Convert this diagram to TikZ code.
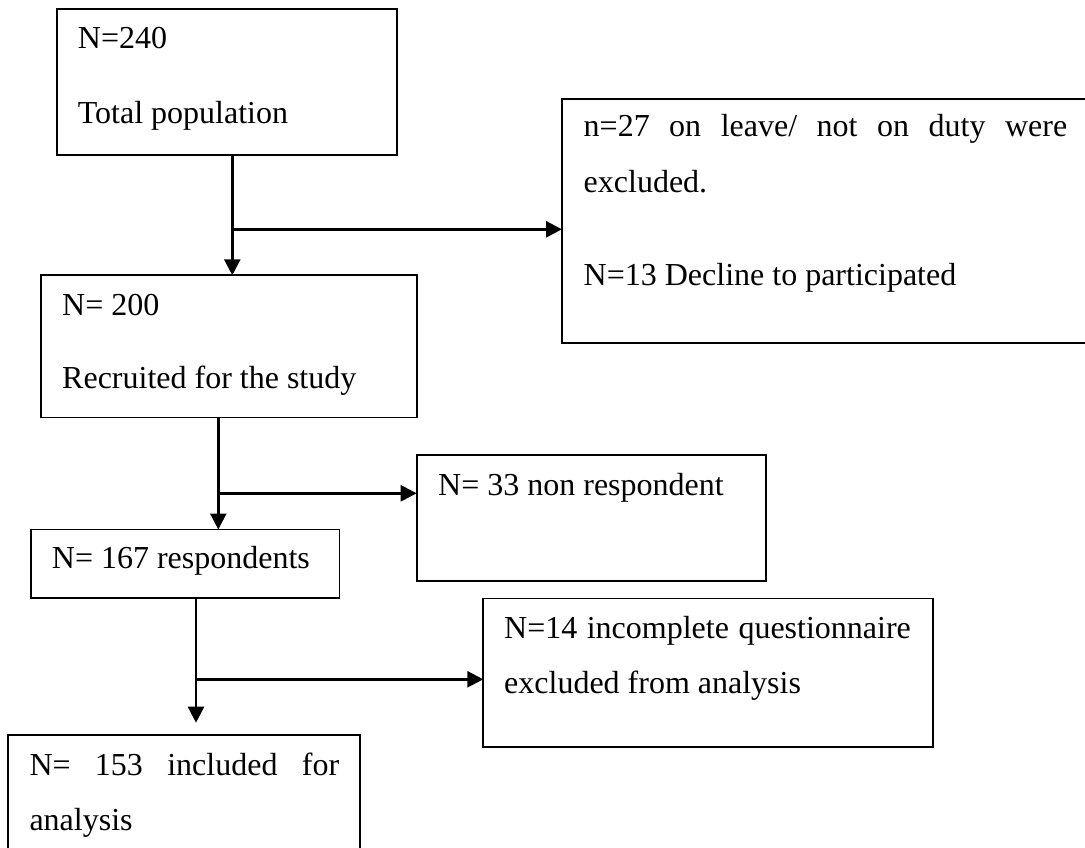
\documentclass[tikz,border=0pt]{standalone}
\usepackage{fontspec}
\setmainfont{Liberation Serif}
\usetikzlibrary{arrows.meta}

\begin{document}
\begin{tikzpicture}[x=1pt,y=-1pt,
        box/.style={draw,line width=1.8pt,inner sep=0pt,outer sep=0pt,anchor=north west},
        txt/.style={anchor=base west,inner sep=0pt,font=\fontsize{32}{38}\selectfont},
        conn/.style={line width=2.5pt,-{Triangle[length=16pt,width=16pt]}}]
            \useasboundingbox (0,0) rectangle (1085,848);
            \clip (0,0) rectangle (1085,848);
            \node[box,minimum width=340.3pt,minimum height=146pt] (pop) at (56.7,9.3) {};
            \node[box,minimum width=533pt,minimum height=244.3pt] (excl) at (562,99) {};
            \node[box,minimum width=375.7pt,minimum height=142.2pt] (rec) at (41.3,275.3) {};
            \node[box,minimum width=349pt,minimum height=125.7pt] (nonr) at (416.7,455) {};
            \node[box,minimum width=308.5pt,minimum height=68.8pt] (resp) at (31,529.5) {};
            \node[box,minimum width=449.4pt,minimum height=148.5pt] (inc) at (483.3,598.5) {};
            \node[box,minimum width=352pt,minimum height=124.7pt] (incl) at (8.3,735.3) {};
            \node[txt] (popA) at (77.7,49) {N=240};
            \node[txt] (popB) at (77.7,124) {Total population};
            \node[txt] (exclA) at (583.5,137) {\makebox[483.5pt][s]{n=27 on leave/ not on duty were}};
            \node[txt] (exclB) at (583.5,193) {excluded.};
            \node[txt] (exclC) at (583.5,285) {N=13 Decline to participated};
            \node[txt] (recA) at (62,315) {N= 200};
            \node[txt] (recB) at (62,388) {Recruited for the study};
            \node[txt] (nonrA) at (438,495) {N= 33 non respondent};
            \node[txt] (respA) at (51.7,568) {N= 167 respondents};
            \node[txt] (incA) at (504,638) {\makebox[406.7pt][s]{N=14 incomplete questionnaire}};
            \node[txt] (incB) at (504,693) {excluded from analysis};
            \node[txt] (inclA) at (29.3,775) {\makebox[309.7pt][s]{N= 153 included for}};
            \node[txt] (inclB) at (29.3,830) {analysis};
            \coordinate (j1) at (232.3,229.3);
            \coordinate (j2) at (218.3,493.3);
            \coordinate (j3) at (196,679.3);
            \coordinate (e3) at (196,722.7);
            \draw[conn] (j1 |- pop.south) -- (j1 |- rec.north);
            \draw[conn] (j1) -- (j1 -| excl.west);
            \draw[conn] (j2 |- rec.south) -- (j2 |- resp.north);
            \draw[conn] (j2) -- (j2 -| nonr.west);
            \draw[conn] (j3 |- resp.south) -- (e3);
            \draw[conn] (j3) -- (j3 -| inc.west);
        \end{tikzpicture}
\end{document}
